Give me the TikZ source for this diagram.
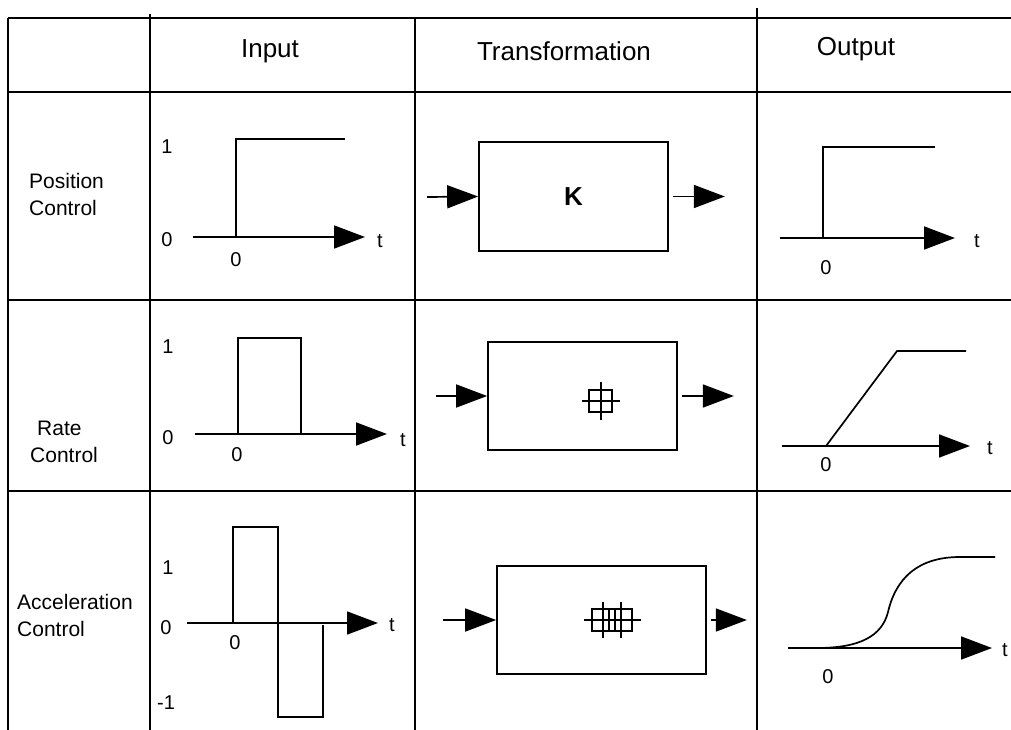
\documentclass[tikz,border=0pt]{standalone}
\usepackage{fontspec}
\setmainfont{Liberation Sans}
\usetikzlibrary{arrows.meta}
\begin{document}
\begin{tikzpicture}[x=1pt,y=-1pt,
  grid/.style={line width=1.8pt},
  curve/.style={line width=1.7pt},
  sym/.style={line width=1.1pt},
  arr/.style={line width=1.7pt,-{Triangle[length=31pt,width=23pt]}},
  lbl/.style={font=\fontsize{20}{27}\selectfont, inner sep=0pt},
  rowlbl/.style={font=\fontsize{21}{27}\selectfont, inner sep=0pt, align=left, anchor=west},
  hdr/.style={font=\fontsize{26}{30}\selectfont, inner sep=0pt},
  tbox/.style={draw, line width=1.7pt, inner sep=0pt}
]
\useasboundingbox (0,0) rectangle (1011,730);
% table grid
\draw[grid] (8,18) -- (1011,18);
\draw[grid] (8,92) -- (1011,92);
\draw[grid] (8,300) -- (1011,300);
\draw[grid] (8,491) -- (1011,491);
\draw[grid] (8,18) -- (8,730);
\draw[grid] (150,14) -- (150,730);
\draw[grid] (415,18) -- (415,730);
\draw[grid] (757,8) -- (757,730);
% headers
\node[hdr] (hin) at (270,51) {Input};
\node[hdr] (htr) at (564,51) {Transformation};
\node[hdr] (hout) at (856,49) {Output};
% row labels
\node[rowlbl] (pos) at (29,194) {Position\\Control};
\node[rowlbl] (rate) at (30,442) {\hspace*{7pt}Rate\\Control};
\node[rowlbl] (acc) at (17,615) {Acceleration\\Control};
% input row 1
\node[lbl] (ia1) at (167,147) {1};
\node[lbl] (ib1) at (167,240) {0};
\node[lbl] (ic1) at (236,260) {0};
\node[lbl] (it1) at (380,241) {t};
\draw[arr] (193,237) -- (365,237);
\draw[curve] (236,237) -- (236,139) -- (345,139);
% input row 2
\node[lbl] (ia2) at (168,347) {1};
\node[lbl] (ib2) at (168,438) {0};
\node[lbl] (ic2) at (237,455) {0};
\node[lbl] (it2) at (403,440) {t};
\draw[arr] (195,434) -- (387,434);
\draw[curve] (238,434) -- (238,338) -- (301,338) -- (301,434);
% input row 3
\node[lbl] (ia3) at (168,568) {1};
\node[lbl] (ib3) at (166,628) {0};
\node[lbl] (id3) at (166,703) {-1};
\node[lbl] (ic3) at (235,643) {0};
\node[lbl] (it3) at (392,625) {t};
\draw[arr] (187,623) -- (378,623);
\draw[curve] (233,623) -- (233,527) -- (278,527) -- (278,717) -- (323,717) -- (323,625);
% transformation row 1
\node[tbox, minimum width=189pt, minimum height=109pt,
  font=\fontsize{26}{30}\selectfont\bfseries] (box1) at (573.5,196.5) {K};
\coordinate (in1) at (427,197);
\draw[arr] (in1) -- (box1.west);
\draw[arr] ([xshift=4pt]box1.east) -- ++(52,0);
% transformation row 2
\node[tbox, minimum width=189pt, minimum height=108pt] (box2) at (582.5,396) {};
\coordinate (in2) at (436,396);
\draw[arr] (in2) -- (box2.west);
\draw[arr] ([xshift=4pt]box2.east) -- ++(52,0);
\draw[sym] (589,390) rectangle (612,412);
\draw[sym] (582,401) -- (620,401);
\draw[sym] (601,382) -- (601,420);
% transformation row 3
\node[tbox, minimum width=209pt, minimum height=108pt] (box3) at (601.5,620) {};
\coordinate (in3) at (443,620);
\draw[arr] (in3) -- (box3.west);
\draw[arr] ([xshift=4pt]box3.east) -- ++(36,0);
\draw[sym] (592,609) rectangle (615,631);
\draw[sym] (609,609) rectangle (632,631);
\draw[sym] (584,620) -- (641,620);
\draw[sym] (603,602) -- (603,638);
\draw[sym] (621,602) -- (621,638);
% output row 1
\node[lbl] (oc1) at (826,268) {0};
\node[lbl] (ot1) at (977,241) {t};
\draw[arr] (780,238) -- (955,238);
\draw[curve] (823,238) -- (823,147) -- (935,147);
% output row 2
\node[lbl] (oc2) at (826,465) {0};
\node[lbl] (ot2) at (990,448) {t};
\draw[arr] (782,446) -- (970,446);
\draw[curve] (826,446) -- (897,351) -- (966,351);
% output row 3
\node[lbl] (oc3) at (828,677) {0};
\node[lbl] (ot3) at (1005,650) {t};
\draw[arr] (788,648) -- (992,648);
\draw[curve] (817,648) .. controls (860,648) and (882,636) .. (888,612)
  .. controls (896,578) and (918,557) .. (960,557) -- (995,557);
\end{tikzpicture}
\end{document}
